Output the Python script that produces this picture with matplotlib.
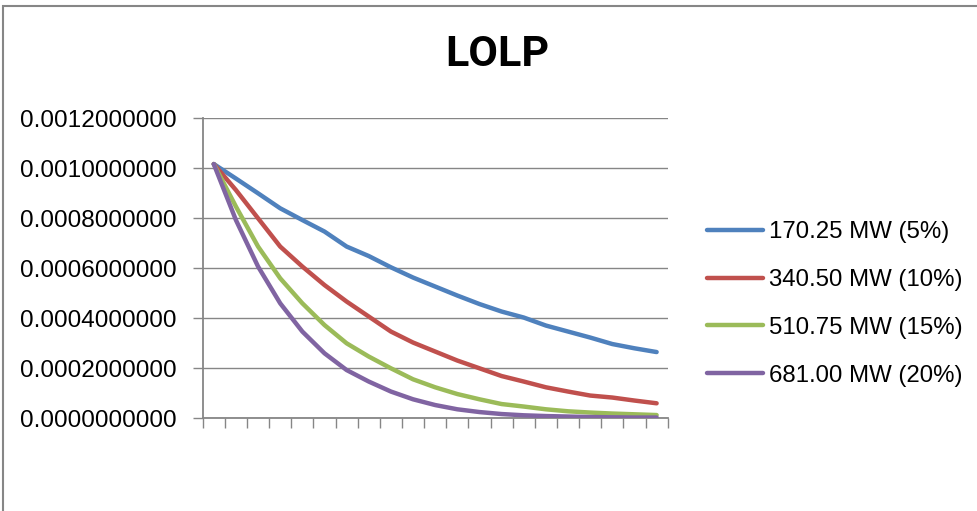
import numpy as np
import matplotlib
matplotlib.use("Agg")
import matplotlib.pyplot as plt
from matplotlib.patches import Rectangle

# dados
labels = ["170.25 MW (5%)", "340.50 MW (10%)", "510.75 MW (15%)", "681.00 MW (20%)"]
cores = ["#4F81BD", "#C0504D", "#9BBB59", "#8064A2"]
x = np.arange(1, 22)
s5 = [0.001017, 0.000959, 0.000900, 0.000840, 0.000793, 0.000747, 0.000687,
      0.000649, 0.000604, 0.000563, 0.000527, 0.000491, 0.000457, 0.000427,
      0.000403, 0.000371, 0.000347, 0.000323, 0.000297, 0.000280, 0.000265]
s10 = [0.001017, 0.000913, 0.000800, 0.000687, 0.000607, 0.000533, 0.000467,
       0.000407, 0.000347, 0.000303, 0.000267, 0.000231, 0.000200, 0.000169,
       0.000147, 0.000124, 0.000107, 0.000091, 0.000083, 0.000071, 0.000060]
s15 = [0.001017, 0.000847, 0.000687, 0.000560, 0.000460, 0.000373, 0.000300,
       0.000247, 0.000200, 0.000156, 0.000124, 0.000097, 0.000076, 0.000057,
       0.000047, 0.000036, 0.000028, 0.000023, 0.000019, 0.000016, 0.000013]
s20 = [0.001017, 0.000793, 0.000607, 0.000460, 0.000347, 0.000260, 0.000193,
       0.000147, 0.000107, 0.000076, 0.000053, 0.000036, 0.000025, 0.000017,
       0.000012, 0.000009, 0.000007, 0.000005, 0.000004, 0.000003, 0.000003]
series = [s5, s10, s15, s20]
yticks = np.arange(0, 0.00121, 0.0002)

plt.rcParams["font.family"] = "Liberation Sans"

W, H = 978, 511
fig = plt.figure(figsize=(W/100, H/100), dpi=100)
ax = fig.add_axes([202.7/W, 1 - 418.3/H, 465/W, 300/H])

cinza = "#868686"
for s, c, lab in zip(series, cores, labels):
    ax.plot(x, s, color=c, lw=3.2, label=lab, solid_capstyle="round", solid_joinstyle="round", zorder=3)

ax.set_xlim(0.5, 21.5)
ax.set_ylim(0, 0.0012)
ax.set_xticks(np.arange(0.5, 22, 1))
ax.set_xticklabels([])
ax.set_yticks(yticks)
ax.set_yticklabels(["%.10f" % v for v in yticks], fontsize=17.6)
ax.grid(axis="y", color=cinza, lw=1.0)
ax.set_axisbelow(True)
ax.tick_params(axis="both", length=7, width=1.0, color=cinza, pad=12)
ax.tick_params(axis="x", pad=2)
for lado in ["top", "right"]:
    ax.spines[lado].set_visible(False)
for lado in ["left", "bottom"]:
    ax.spines[lado].set_color(cinza)
    ax.spines[lado].set_linewidth(1.3)

fig.text(497.6/W, 1 - 54.8/H, "LOLP", ha="center", va="center", fontsize=31,
         fontweight="bold", family="Roboto")

fig.legend(loc="upper left", bbox_to_anchor=(707/W, 1 - 221/H), frameon=False,
           fontsize=17.3, handlelength=2.35, handletextpad=0.25, labelspacing=1.08,
           borderaxespad=0, borderpad=0)

# borda do grafico
fig.patches.append(Rectangle((3/W, -0.05), 1.1, 1 - 6.5/H + 0.05, transform=fig.transFigure,
                             fill=False, edgecolor=cinza, lw=1.5, clip_on=False))

fig.savefig("out.png", dpi=100)
